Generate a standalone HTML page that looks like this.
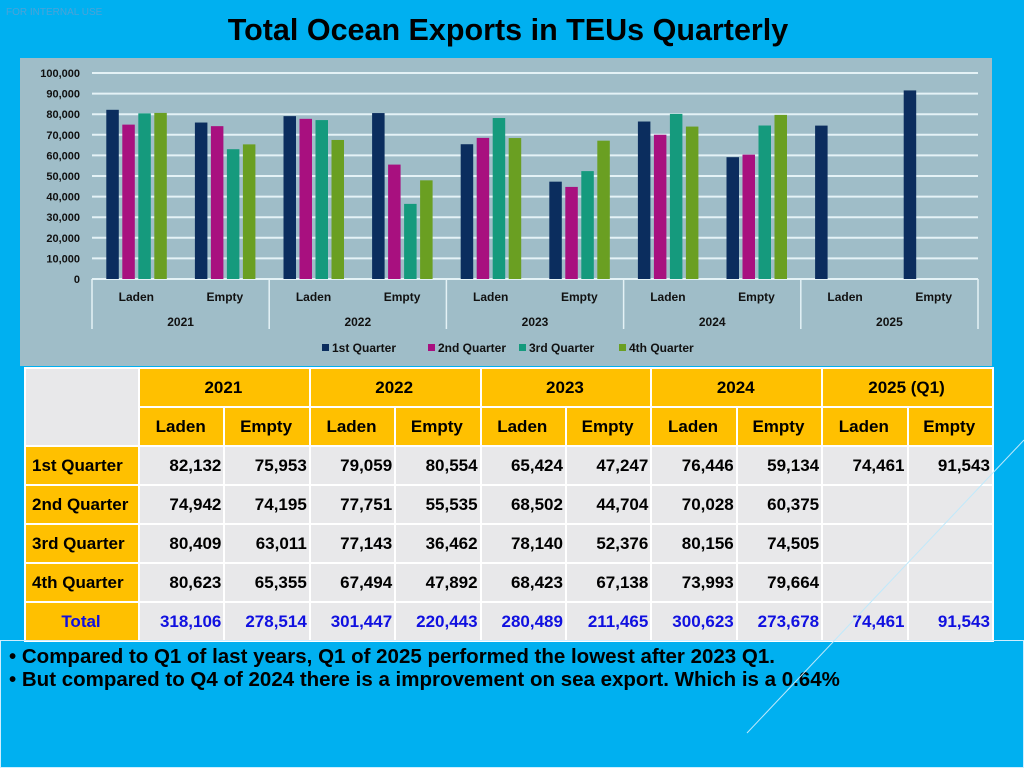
<!DOCTYPE html>
<html><head><meta charset="utf-8">
<style>
body{margin:0;width:1024px;height:768px;background:#00b0f0;font-family:"Liberation Sans",sans-serif;position:relative;overflow:hidden}
#title{position:absolute;left:0;width:1016px;top:13px;text-align:center;font-weight:bold;font-size:30.5px;color:#000}
#tag{position:absolute;left:6px;top:7px;font-size:10px;color:#4aa3d8}
#chart{position:absolute;left:20px;top:58px;width:972px;height:308px;background:#9fbdc8}
table{position:absolute;left:24px;top:367px;border-collapse:collapse;table-layout:fixed;font-size:17px;font-weight:bold}
td{border:2px solid #fff;height:37px;padding:0 2px 0 0;text-align:right;background:#e8e8ea}
td.y{background:#ffc000;text-align:center}
td.tot{color:#1010e0}
#note{position:absolute;left:0;top:640px;width:1022px;height:126px;border:1px solid #cfeeff}
#note div{font-weight:bold;font-size:20.5px;margin-left:8px;line-height:23px;white-space:nowrap}
</style></head><body>
<div id="tag">FOR INTERNAL USE</div>
<div id="title">Total Ocean Exports in TEUs Quarterly</div>
<svg id="chart" width="972" height="308"></svg>
<table id="tbl"></table>
<div id="note">
<div style="margin-top:4px">• Compared to Q1 of last years, Q1 of 2025 performed the lowest after 2023 Q1.</div>
<div>• But compared to Q4 of 2024 there is a improvement on sea export. Which is a 0.64%</div>
</div>
<svg style="position:absolute;left:0;top:0" width="1024" height="768">
<line x1="747" y1="733" x2="1024" y2="440" stroke="#bfe9fb" stroke-width="1"/>
</svg>
<script>
const years=["2021","2022","2023","2024","2025"];
const types=["Laden","Empty"];
const series=["1st Quarter","2nd Quarter","3rd Quarter","4th Quarter"];
const q1=[82132,75953,79059,80554,65424,47247,76446,59134,74461,91543];
const q2=[74942,74195,77751,55535,68502,44704,70028,60375,null,null];
const q3=[80409,63011,77143,36462,78140,52376,80156,74505,null,null];
const q4=[80623,65355,67494,47892,68423,67138,73993,79664,null,null];
const yTicks=[0,10000,20000,30000,40000,50000,60000,70000,80000,90000,100000];
const colors=["#0b2d5e","#a8107f","#159a7d","#6a9f22"];
const NS="http://www.w3.org/2000/svg";
const svg=document.getElementById('chart');
const px0=72,px1=958,py0=221,py1=15;
const Y=v=>py0-(v/100000)*(py0-py1);
const catW=(px1-px0)/10;
const X=i=>px0+catW*(i+0.5);
function mk(t,a,txt){const e=document.createElementNS(NS,t);for(const k in a)e.setAttribute(k,a[k]);if(txt!=null)e.textContent=txt;svg.appendChild(e);return e;}
yTicks.forEach(t=>{
  const g=mk('line',{x1:px0,x2:px1,y1:Y(t),y2:Y(t),stroke:'#e4f2f6','stroke-width':2});
  
  
  const l=mk('text',{x:60,y:Y(t)+4,'text-anchor':'end','font-size':11,'font-weight':'bold',fill:'#111'},t.toLocaleString('en-US'));
  
  
});
[q1,q2,q3,q4].forEach((s,si)=>{
  s.forEach((v,i)=>{
    if(v==null)return;
    const x=X(i)-30+si*16;
    const r=mk('rect',{x:x,y:Y(v),width:12.5,height:Y(0)-Y(v),fill:colors[si]});
    
    
  });
});
for(let g=0;g<=5;g++){
  const x=px0+catW*2*g;
  const l=mk('line',{x1:x,x2:x,y1:py0,y2:271,stroke:'#e4f2f6','stroke-width':1.5});
  
  
}
for(let i=0;i<10;i++){
  const t=mk('text',{x:X(i),y:243,'text-anchor':'middle','font-size':12,'font-weight':'bold',fill:'#111'},types[i%2]);
  
  
}
years.forEach((y,g)=>{
  const t=mk('text',{x:px0+catW*(2*g+1),y:268,'text-anchor':'middle','font-size':12,'font-weight':'bold',fill:'#111'},y);
  
  
});
const lx=[302,408,499,599];
series.forEach((s,i)=>{
  const r=mk('rect',{x:lx[i],y:286,width:7,height:7,fill:colors[i]});
  
  
  const t=mk('text',{x:lx[i]+10,y:294,'font-size':12,'font-weight':'bold',fill:'#111'},s);
  
  
});
const tbl=document.getElementById('tbl');
let h='<colgroup><col style="width:114px">'+'<col style="width:85.4px">'.repeat(10)+'</colgroup>';
h+='<tr><td rowspan="2" style="height:76px"></td>';
["2021","2022","2023","2024","2025 (Q1)"].forEach(y=>h+='<td class="y" colspan="2">'+y+'</td>');
h+='</tr><tr>';
for(let i=0;i<10;i++)h+='<td class="y">'+types[i%2]+'</td>';
h+='</tr>';
const fmt=v=>v==null?'':v.toLocaleString('en-US');
[q1,q2,q3,q4].forEach((s,si)=>{
  h+='<tr><td class="y" style="text-align:left;padding-left:6px">'+series[si]+'</td>';
  s.forEach(v=>h+='<td>'+fmt(v)+'</td>');
  h+='</tr>';
});
h+='<tr><td class="y tot">Total</td>';
for(let i=0;i<10;i++){const t=[q1,q2,q3,q4].reduce((a,s)=>a+(s[i]||0),0);h+='<td class="tot">'+fmt(t)+'</td>';}
h+='</tr>';
tbl.innerHTML=h;
</script>
</body></html>
